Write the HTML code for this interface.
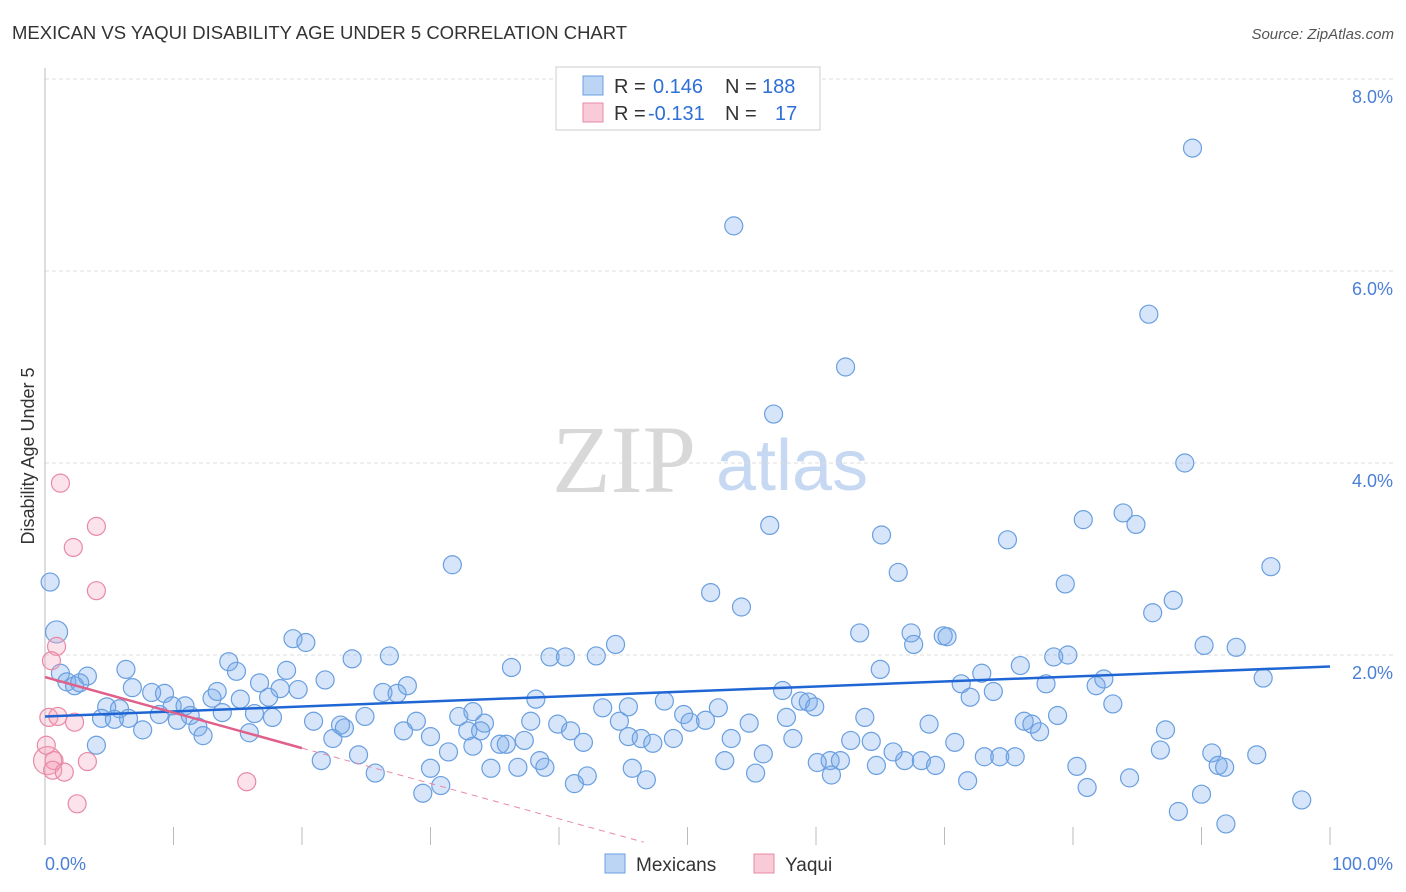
<!DOCTYPE html>
<html><head><meta charset="utf-8"><style>
body{margin:0;background:#fff;font-family:"Liberation Sans",sans-serif;}
svg{display:block}
</style></head><body>
<svg width="1406" height="892" xmlns="http://www.w3.org/2000/svg">
<text x="12" y="39" font-size="18.5" fill="#333">MEXICAN VS YAQUI DISABILITY AGE UNDER 5 CORRELATION CHART</text>
<text x="1394" y="39" font-size="15" fill="#555" font-style="italic" text-anchor="end">Source: ZipAtlas.com</text>
<g>
<text x="552" y="492" font-family="Liberation Serif,serif" font-size="96" fill="#d8d8d8">ZIP</text>
<text x="716" y="490" font-size="72" fill="#c6d8f2">atlas</text>
</g>
<g id="grid"></g>
<line x1="45" y1="68" x2="45" y2="845" stroke="#bbb"/>
<g id="xticks"></g>
<text x="34" y="456" font-size="18" fill="#333" transform="rotate(-90 34 456)" text-anchor="middle">Disability Age Under 5</text>
<text x="45" y="870" font-size="18" fill="#4a7fd6">0.0%</text>
<text x="1393" y="870" font-size="18" fill="#4a7fd6" text-anchor="end">100.0%</text>
<g id="pts"></g>
<g id="lines"></g>
<g font-size="20">
<rect x="556" y="67" width="264" height="63" fill="#fff" stroke="#ccc"/>
<rect x="583" y="76" width="20" height="19" fill="#bcd5f5" stroke="#6a9fe0"/>
<rect x="583" y="103" width="20" height="19" fill="#f9cad7" stroke="#e88aa6"/>
<text x="614" y="93" fill="#333">R =</text>
<text x="653" y="93" fill="#2f6fd6">0.146</text>
<text x="725" y="93" fill="#333">N =</text>
<text x="762" y="93" fill="#2f6fd6">188</text>
<text x="614" y="120" fill="#333">R =</text>
<text x="648" y="120" fill="#2f6fd6">-0.131</text>
<text x="725" y="120" fill="#333">N =</text>
<text x="775" y="120" fill="#2f6fd6">17</text>
</g>
<g>
<rect x="605" y="854" width="20" height="19" fill="#bcd5f5" stroke="#6a9fe0"/>
<text x="636" y="871" font-size="19" fill="#333">Mexicans</text>
<rect x="754" y="854" width="20" height="19" fill="#f9cad7" stroke="#e88aa6"/>
<text x="785" y="871" font-size="19" fill="#333">Yaqui</text>
</g>
</svg>
<script>
const yTicks=[2,4,6,8];
const yTickLabels=["2.0%","4.0%","6.0%","8.0%"];
const mexX=[89.3,53.6,85.9,62.3,56.7,88.7,56.4,80.8,83.9,84.9,65.1,74.9,31.7,95.4,66.4,79.4,51.8,87.8,54.2,86.2,0.4,0.9,19.3,20.3,44.4,63.4,67.4,69.9,70.2,67.6,90.2,92.7,78.5,79.6,75.9,39.3,40.5,42.9,26.8,23.9,14.3,14.9,6.3,18.8,36.3,65.0,71.3,72.9,77.9,81.8,82.4,94.8,1.2,3.3,1.7,2.3,2.7,16.7,21.8,18.3,19.7,26.3,27.4,28.2,6.8,8.3,9.3,13.0,13.4,15.2,17.4,38.2,48.2,57.4,58.8,59.4,72.0,73.8,83.1,4.8,5.8,9.9,10.9,8.9,11.3,13.8,16.3,17.7,20.9,23.0,24.9,28.9,32.2,33.3,34.2,37.8,39.9,43.4,45.4,44.7,49.7,50.2,51.4,52.4,54.8,57.7,59.9,63.8,68.8,76.2,76.8,78.8,77.4,87.2,4.4,6.5,5.4,7.6,10.3,11.9,12.3,15.9,22.4,23.3,27.9,30.0,32.9,33.9,35.4,35.9,37.3,40.9,41.9,45.4,46.4,47.3,48.9,53.4,58.2,62.7,64.3,70.8,4.0,24.4,21.5,31.4,33.3,38.5,55.9,52.9,66.0,66.9,68.2,73.1,74.3,75.5,86.8,90.8,94.3,69.3,64.7,61.1,60.1,61.9,25.7,30.0,34.7,36.8,38.9,45.7,55.3,61.2,80.3,91.3,91.8,84.4,71.8,46.8,42.2,41.2,30.8,29.4,81.1,90.0,97.8,88.2,91.9];
const mexY=[7.28,6.47,5.55,5.0,4.51,4.0,3.35,3.41,3.48,3.36,3.25,3.2,2.94,2.92,2.86,2.74,2.65,2.57,2.5,2.44,2.76,2.24,2.17,2.13,2.11,2.23,2.23,2.2,2.19,2.11,2.1,2.08,1.98,2.0,1.89,1.98,1.98,1.99,1.99,1.96,1.93,1.83,1.85,1.84,1.87,1.85,1.7,1.81,1.7,1.68,1.75,1.76,1.81,1.78,1.72,1.68,1.71,1.71,1.74,1.65,1.64,1.61,1.6,1.68,1.66,1.61,1.6,1.55,1.62,1.54,1.56,1.54,1.52,1.63,1.52,1.51,1.56,1.62,1.49,1.46,1.44,1.47,1.47,1.38,1.37,1.4,1.39,1.35,1.31,1.27,1.36,1.31,1.36,1.41,1.29,1.31,1.28,1.45,1.46,1.31,1.38,1.3,1.32,1.45,1.29,1.35,1.46,1.35,1.28,1.31,1.28,1.37,1.2,1.22,1.34,1.34,1.33,1.22,1.32,1.25,1.16,1.19,1.13,1.24,1.21,1.15,1.21,1.21,1.07,1.07,1.11,1.21,1.09,1.15,1.13,1.08,1.13,1.13,1.13,1.11,1.1,1.09,1.06,0.96,0.9,0.99,1.05,0.9,0.97,0.9,0.99,0.9,0.9,0.94,0.94,0.94,1.01,0.98,0.96,0.85,0.85,0.9,0.88,0.9,0.77,0.82,0.82,0.83,0.83,0.82,0.77,0.75,0.84,0.85,0.83,0.72,0.69,0.7,0.74,0.66,0.64,0.56,0.62,0.55,0.49,0.37,0.24];
const mexR=[9,9,9,9,9,9,9,9,9,9,9,9,9,9,9,9,9,9,9,9,9,11];
const yaqX=[1.2,4.0,2.2,4.0,0.9,0.5,0.3,1.0,2.3,0.2,0.7,0.6,1.5,3.3,15.7,2.5,0.1];
const yaqY=[3.79,3.34,3.12,2.67,2.09,1.94,1.35,1.36,1.3,0.9,0.9,0.8,0.78,0.89,0.68,0.45,1.06];
const yaqR=[9,9,9,9,9,9,9,9,9,14,9,9,9,9,9,9,9];
const mexTrend=[1.36,1.88];
const yaqTrend=[1.77,1.03];
const yaqTrendEnd=[20,46.6,0.05];
const NS="http://www.w3.org/2000/svg";
const xs=v=>45+v*12.85, ys=v=>847-v*96;
function mk(t,a,p){const e=document.createElementNS(NS,t);for(const k in a)e.setAttribute(k,a[k]);p.appendChild(e);return e;}
const grid=document.getElementById('grid');
yTicks.forEach((t,i)=>{
 const l=mk('line',{x1:45,x2:1393,y1:ys(t),y2:ys(t),stroke:'#ddd','stroke-dasharray':'4,3'},grid);
 
 
 const tx=mk('text',{x:1393,y:ys(t)+24,'font-size':18,fill:'#4a7fd6','text-anchor':'end'},grid);
 tx.textContent=yTickLabels[i];
 
 
});
const xt=document.getElementById('xticks');
for(let i=0;i<=10;i++){
 const l=mk('line',{x1:xs(i*10),x2:xs(i*10),y1:827,y2:845,stroke:'#bbb'},xt);
 
 
}
const pts=document.getElementById('pts');
mexX.forEach((x,i)=>{
 const c=mk('circle',{cx:xs(x),cy:ys(mexY[i]),r:mexR[i]||9,fill:'rgba(120,170,235,0.3)',stroke:'#6a9fe0','stroke-width':1.2},pts);
 
 
});
yaqX.forEach((x,i)=>{
 const c=mk('circle',{cx:xs(x),cy:ys(yaqY[i]),r:yaqR[i],fill:'rgba(245,160,185,0.3)',stroke:'#e88aa6','stroke-width':1.2},pts);
 
 
});
const ln=document.getElementById('lines');
const b=mk('line',{x1:xs(0),y1:ys(mexTrend[0]),x2:xs(100),y2:ys(mexTrend[1]),stroke:'#1f66d4','stroke-width':2.5},ln);


const p=mk('line',{x1:xs(0),y1:ys(yaqTrend[0]),x2:xs(yaqTrendEnd[0]),y2:ys(yaqTrend[1]),stroke:'#e0608a','stroke-width':2.5},ln);


const pd=mk('line',{x1:xs(yaqTrendEnd[0]),y1:ys(yaqTrend[1]),x2:xs(yaqTrendEnd[1]),y2:ys(yaqTrendEnd[2]),stroke:'#e88aa6','stroke-width':1,'stroke-dasharray':'6,5'},ln);


</script>
</body></html>
